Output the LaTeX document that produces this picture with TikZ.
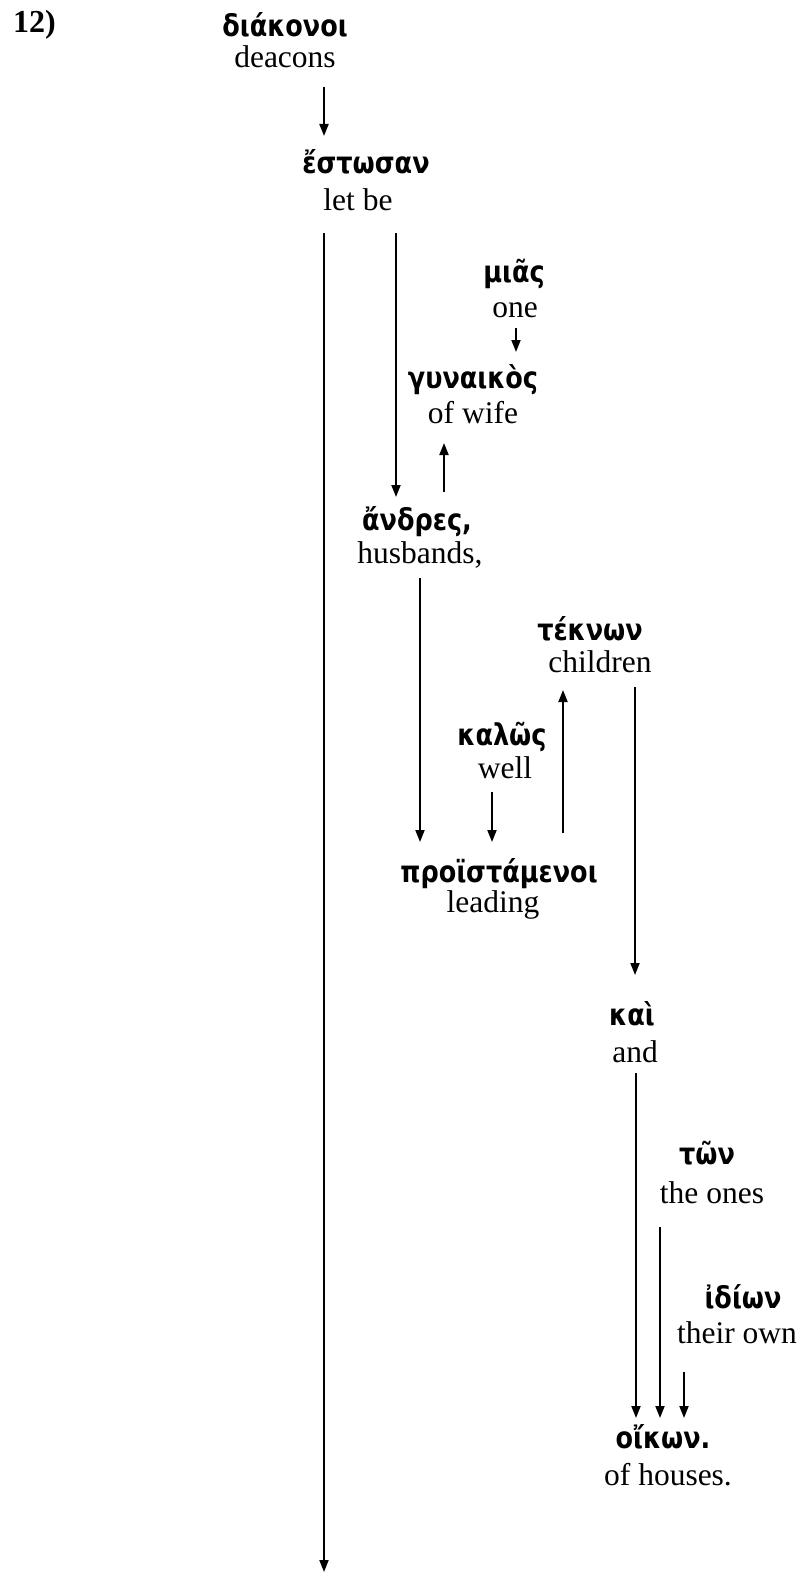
\documentclass[tikz,border=0pt]{standalone}
\usepackage{fontspec}
\setmainfont{Liberation Serif}
\newfontfamily\gkfont[FakeStretch=0.85]{DejaVu Sans}
\usetikzlibrary{arrows.meta,calc}
\begin{document}
\begin{tikzpicture}[x=1bp,y=-1bp,
  gk/.style={inner sep=0pt,anchor=base,font=\gkfont\bfseries\fontsize{30bp}{36bp}\selectfont},
  en/.style={inner sep=0pt,anchor=base,font=\fontsize{31.5bp}{38bp}\selectfont},
  arr/.style={line width=1.8bp,-{Triangle[length=12bp,width=9bp]}}]
\useasboundingbox (0,0) rectangle (799,1572);
\node[inner sep=0pt,anchor=base west,font=\bfseries\fontsize{32bp}{38bp}\selectfont] (num) at (13,33) {12)};
\node[gk] (diakonoi) at (285,37) {διάκονοι};
\node[en] (deacons) at (285,68) {deacons};
\node[gk] (estosan) at (366,173) {ἔστωσαν};
\node[en] (letbe) at (358,210) {let be};
\node[gk] (mias) at (514,282) {μιᾶς};
\node[en] (one) at (515,317) {one};
\node[gk] (gynaikos) at (473,388) {γυναικὸς};
\node[en] (ofwife) at (473,423) {of wife};
\node[gk] (andres) at (417,530) {ἄνδρες,};
\node[en] (husbands) at (420,563) {husbands,};
\node[gk] (teknon) at (590,640) {τέκνων};
\node[en] (children) at (600,672) {children};
\node[gk] (kalos) at (502,745) {καλῶς};
\node[en] (well) at (505,778) {well};
\node[gk] (proist) at (499,882) {προϊστάμενοι};
\node[en] (leading) at (493,912) {leading};
\node[gk] (kai) at (632,1025) {καὶ};
\node[en] (and) at (635,1062) {and};
\node[gk] (ton) at (707,1164) {τῶν};
\node[en] (theones) at (712,1203) {the ones};
\node[gk] (idion) at (743,1308) {ἰδίων};
\node[en] (theirown) at (737,1343) {their own};
\node[gk] (oikon) at (663,1448) {οἴκων.};
\node[en] (ofhouses) at (668,1485) {of houses.};
\coordinate (bottom) at (324,1572);
% connectors
\draw[arr] ($(deacons.base)+(324-285,87-68)$) -- ($(estosan.base)+(324-366,136-173)$);
\draw[arr] ($(letbe.base)+(324-358,233-210)$) -- (bottom);
\draw[arr] ($(letbe.base)+(396-358,233-210)$) -- ($(andres.base)+(396-417,497-530)$);
\draw[arr] ($(one.base)+(516-515,328-317)$) -- ($(gynaikos.base)+(516-473,352-388)$);
\draw[arr] ($(andres.base)+(444-417,492-530)$) -- ($(ofwife.base)+(444-473,443-423)$);
\draw[arr] ($(husbands.base)+(420-420,578-563)$) -- ($(proist.base)+(420-499,842-882)$);
\draw[arr] ($(well.base)+(492-505,792-778)$) -- ($(proist.base)+(492-499,842-882)$);
\draw[arr] ($(proist.base)+(563-499,833-882)$) -- ($(children.base)+(563-600,690-672)$);
\draw[arr] ($(children.base)+(635-600,687-672)$) -- ($(kai.base)+(635-632,975-1025)$);
\draw[arr] ($(and.base)+(636-635,1073-1062)$) -- ($(oikon.base)+(636-663,1418-1448)$);
\draw[arr] ($(theones.base)+(660-712,1227-1203)$) -- ($(oikon.base)+(660-663,1418-1448)$);
\draw[arr] ($(theirown.base)+(684-737,1372-1343)$) -- ($(oikon.base)+(684-663,1418-1448)$);
\end{tikzpicture}
\end{document}
